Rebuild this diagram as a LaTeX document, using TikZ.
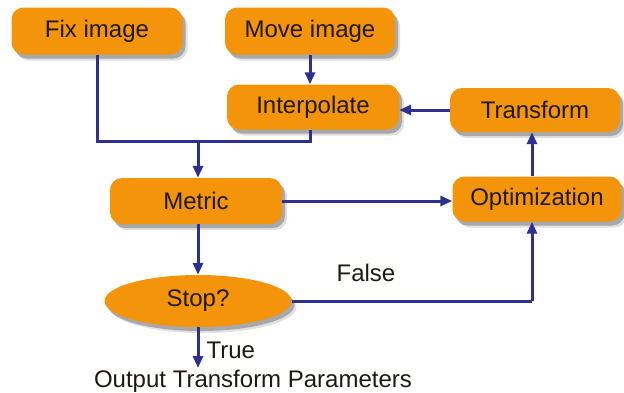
\documentclass[tikz,border=0pt]{standalone}
\usepackage{fontspec}
\setmainfont{Liberation Sans}
\usetikzlibrary{arrows.meta,shadows,shapes.geometric}
\definecolor{boxorange}{RGB}{243,148,10}
\definecolor{linkblue}{RGB}{45,47,145}
\definecolor{inkdark}{RGB}{30,25,20}
\tikzset{
  softshadow/.style={
    drop shadow={shadow xshift=5pt, shadow yshift=-6pt, fill=black, opacity=0.12},
    drop shadow={shadow xshift=3pt, shadow yshift=-4pt, fill=black, opacity=0.25}},
  stepbox/.style={rectangle, rounded corners=12pt, fill=boxorange, draw=none,
    text=inkdark, font=\fontsize{24}{28}\selectfont, softshadow},
  decisionbox/.style={ellipse, fill=boxorange, draw=none, inner sep=0pt,
    text=inkdark, font=\fontsize{24}{28}\selectfont, softshadow},
  link/.style={draw=linkblue, line width=3pt},
  linkarrow/.style={link, -{Triangle[length=12pt,width=10pt]}},
  plain/.style={text=inkdark, font=\fontsize{24}{28}\selectfont}
}
\begin{document}
\begin{tikzpicture}[x=1pt,y=-1pt]
\useasboundingbox (0,0) rectangle (624,392);
\node[stepbox, minimum width=171pt, minimum height=47pt] (fix) at (97,31) {Fix image};
\node[stepbox, minimum width=170pt, minimum height=47pt] (move) at (310,31) {Move image};
\node[stepbox, minimum width=172pt, minimum height=45pt] (interp) at (313,107) {Interpolate};
\node[stepbox, minimum width=170pt, minimum height=44pt] (trans) at (535,110) {Transform};
\node[stepbox, minimum width=169pt, minimum height=45pt] (opt) at (537,199) {Optimization};
\node[stepbox, minimum width=172pt, minimum height=46pt] (metric) at (196,201) {Metric};
\node[decisionbox, minimum width=187pt, minimum height=52pt] (stop) at (198,301) {Stop?};
\node[plain] (false) at (366,273) {False};
\node[plain, anchor=west] (true) at (203,350) {True};
\node[plain] (output) at (253,381) {Output Transform Parameters};
\coordinate (join) at (198,141);
\coordinate (outend) at (198,368);
\coordinate (fixcorner) at (97,141);
\coordinate (intcorner) at (310,141);
\coordinate (stopcorner) at (532,301);
% connectors
\draw[link] (fix.south) -- (fixcorner) -- (intcorner) -- (interp.south -| intcorner);
\draw[linkarrow] (join) -- (metric.north -| join);
\draw[linkarrow] (move.south -| intcorner) -- (interp.north -| intcorner);
\draw[linkarrow] (trans.west) -- (interp.east |- trans.west);
\draw[linkarrow] (opt.north -| stopcorner) -- (trans.south -| stopcorner);
\draw[linkarrow] (metric.east |- 0,201) -- (opt.west |- 0,201);
\draw[linkarrow] (metric.south -| join) -- (stop.north);
\draw[link] (stop.east) -- (stopcorner);
\draw[linkarrow] (stopcorner) -- (opt.south -| stopcorner);
\draw[linkarrow] (stop.south) -- (outend);
\end{tikzpicture}
\end{document}
